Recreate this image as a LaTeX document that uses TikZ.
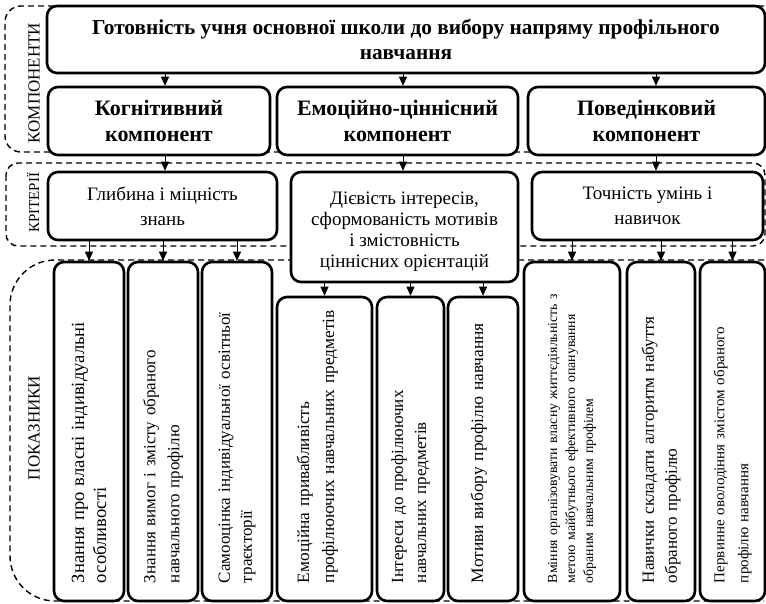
\documentclass[tikz,border=0pt]{standalone}
\usepackage{fontspec}
\setmainfont{Liberation Serif}
\usetikzlibrary{arrows.meta}
\begin{document}
\begin{tikzpicture}[x=1pt,y=-1pt,
  box/.style={draw, line width=2.6pt, rounded corners=10pt, fill=white, inner sep=0pt, align=center},
  grp/.style={draw, line width=1.4pt, dash pattern=on 6pt off 4pt},
  arr/.style={line width=0.9pt, -{Triangle[width=8pt,length=9pt]}},
  head/.style={box, font=\fontsize{22}{26}\selectfont\bfseries},
  crit/.style={box, font=\fontsize{19}{25}\selectfont},
  ind/.style={box, rotate=90, align=left, font=\fontsize{17}{23}\selectfont},
  glabel/.style={rotate=90, inner sep=0pt},
]
\useasboundingbox (0,0) rectangle (766,604);
% dashed groups
\draw[grp, rounded corners=16pt] (764,6) -- (5,6) -- (5,152) -- (764,152);
\draw[grp, rounded corners=12pt] (6,163) rectangle (765,246);
\draw[grp, rounded corners=45pt] (764,260) -- (10,260) -- (10,601) -- (764,601);
% group labels
\node[glabel, font=\fontsize{17}{20}\selectfont] (lk) at (34,83) {КОМПОНЕНТИ};
\node[glabel, font=\fontsize{15}{18}\selectfont] (lc) at (33,203) {КРІТЕРІЇ};
\node[glabel, font=\fontsize{17}{20}\selectfont] (lp) at (34,428) {ПОКАЗНИКИ};
% top
\node[head, minimum width=718pt, minimum height=67pt, font=\fontsize{21.3}{25}\selectfont\bfseries] (top) at (406,39.5)
  {Готовність учня основної школи до вибору напряму профільного\\навчання};
% components
\node[head, minimum width=222pt, minimum height=68pt] (r1) at (159,121) {Когнітивний\\компонент};
\node[head, minimum width=241pt, minimum height=68pt] (r2) at (397.5,121) {Емоційно-ціннісний\\компонент};
\node[head, minimum width=237pt, minimum height=68pt] (r3) at (646.5,121) {Поведінковий\\компонент};
% criteria
\node[crit, minimum width=229pt, minimum height=68pt] (c1) at (162.5,206) {Глибина і міцність\\знань};
\node[crit, minimum width=227pt, minimum height=110pt, font=\fontsize{19}{21}\selectfont] (c2) at (404.5,227)
  {\rule{0pt}{22pt}Дієвість інтересів,\\сформованість мотивів\\і змістовність\\ціннісних орієнтацій};
\node[crit, minimum width=231pt, minimum height=68pt] (c3) at (647.5,206) {Точність умінь і\\навичок};
% indicators
\node[ind, minimum width=339pt, minimum height=70pt, text width=303pt, font=\fontsize{18.6}{22}\selectfont] (i1) at (89,431.5)
  {\mbox{Знання про власні індивідуальні}\\\mbox{особливості}};
\node[ind, minimum width=339pt, minimum height=70pt, text width=303pt, font=\fontsize{17}{24}\selectfont] (i2) at (163,431.5)
  {\mbox{Знання вимог і змісту обраного}\\\mbox{навчального профілю}};
\node[ind, minimum width=339pt, minimum height=70pt, text width=303pt, font=\fontsize{17}{22}\selectfont] (i3) at (237,431.5)
  {\mbox{Самооцінка індивідуальної освітньої}\\\mbox{траєкторії}};
\node[ind, minimum width=304pt, minimum height=95pt, text width=268pt, font=\fontsize{17.3}{25}\selectfont] (i4) at (324.5,449)
  {\mbox{Емоційна привабливість}\\\mbox{профілюючих навчальних предметів}\\[-7pt]\mbox{}};
\node[ind, minimum width=304pt, minimum height=67pt, text width=268pt] (i5) at (410.5,449)
  {\mbox{Інтереси до профілюючих}\\\mbox{навчальних предметів}};
\node[ind, minimum width=304pt, minimum height=70pt, text width=268pt, font=\fontsize{17.4}{23}\selectfont] (i6) at (483,449)
  {\mbox{Мотиви вибору профілю навчання}\\[-11pt]\mbox{}};
\node[ind, minimum width=339pt, minimum height=96pt, text width=303pt, font=\fontsize{13.8}{18}\selectfont] (i7) at (572,431.5)
  {\mbox{Вміння організовувати власну життєдіяльність з}\\\mbox{метою майбутнього ефективного опанування}\\\mbox{обраним навчальним профілем}};
\node[ind, minimum width=339pt, minimum height=68pt, text width=303pt] (i8) at (661,431.5)
  {\mbox{Навички складати алгоритм набуття}\\\mbox{обраного профілю}};
\node[ind, minimum width=339pt, minimum height=65pt, text width=303pt, font=\fontsize{15}{24}\selectfont] (i9) at (732.5,431.5)
  {\mbox{Первинне оволодіння змістом обраного}\\\mbox{профілю навчання}};
% arrow columns
\coordinate (ax1) at (165,0);
\coordinate (ax2) at (403,0);
\coordinate (ax3) at (656,0);
\draw[arr] (top.south -| ax1) -- (r1.north -| ax1);
\draw[arr] (top.south -| ax2) -- (r2.north -| ax2);
\draw[arr] (top.south -| ax3) -- (r3.north -| ax3);
\draw[arr] (r1.south -| ax1) -- (c1.north -| ax1);
\draw[arr] (r2.south -| ax2) -- (c2.north -| ax2);
\draw[arr] (r3.south -| ax3) -- (c3.north -| ax3);
\draw[arr] (c1.south -| i1) -- (i1);
\draw[arr] (c1.south -| i2) -- (i2);
\draw[arr] (c1.south -| i3) -- (i3);
\draw[arr] (c2.south -| i4) -- (i4);
\draw[arr] (c2.south -| i5) -- (i5);
\draw[arr] (c2.south -| i6) -- (i6);
\draw[arr] (c3.south -| i7) -- (i7);
\draw[arr] (c3.south -| i8) -- (i8);
\draw[arr] (c3.south -| i9) -- (i9);
\end{tikzpicture}
\end{document}
